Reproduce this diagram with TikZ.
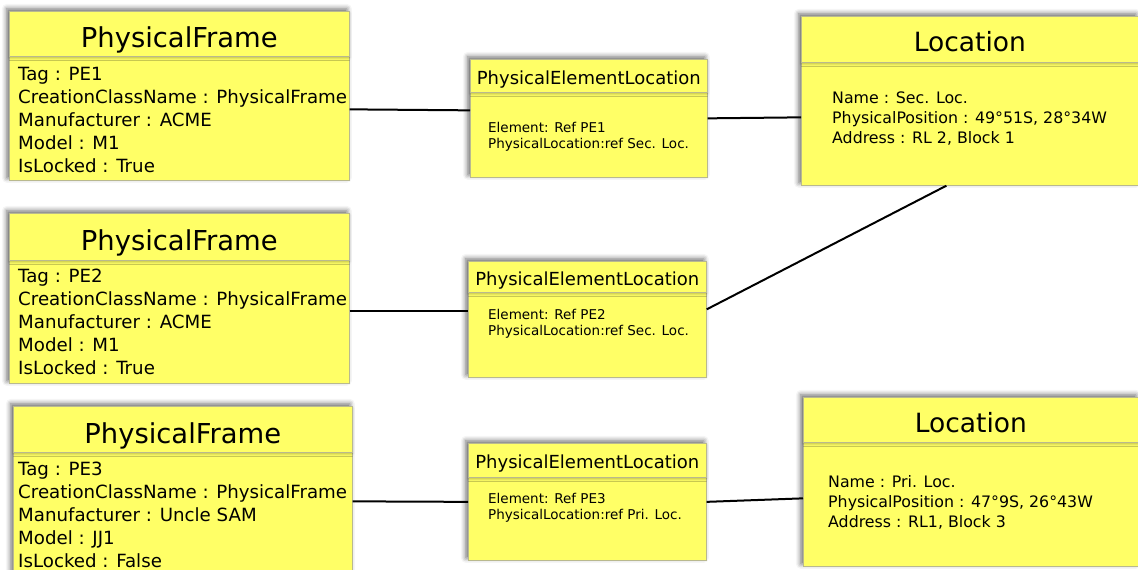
\documentclass[tikz,border=0pt]{standalone}
\usepackage{fontspec}
\setmainfont{DejaVu Sans}
\usepackage{xcolor}
\usetikzlibrary{positioning,shadows,shadows.blur}
\definecolor{notefill}{HTML}{FFFF66}
\definecolor{noteline}{HTML}{B9B98F}

\tikzset{
	note/.style={rectangle, anchor=north west, inner sep=0pt, fill=notefill, draw=noteline, line width=0.7pt,
		blur shadow={shadow xshift=-2.5pt, shadow yshift=2.5pt, shadow blur radius=5pt, shadow opacity=60}},
	notehead/.style={rectangle, anchor=north west, inner sep=0pt, fill=notefill, draw=noteline, line width=0.6pt,
		blur shadow={shadow xshift=0pt, shadow yshift=-1.5pt, shadow blur radius=2.5pt, shadow opacity=30}},
	bigtitle/.style={font=\fontsize{27.4}{32}\selectfont, text height=28pt, text depth=0pt},
	loctitle/.style={font=\fontsize{26.5}{31}\selectfont, text height=25.3pt, text depth=0pt},
	smalltitle/.style={font=\fontsize{18}{21}\selectfont, text height=17pt, text depth=0pt},
	frametext/.style={anchor=west, align=left, inner sep=0pt, font=\fontsize{18.2}{23}\selectfont},
	loctext/.style={anchor=west, align=left, inner sep=0pt, font=\fontsize{15.8}{20}\selectfont},
	peltext/.style={anchor=west, align=left, inner sep=0pt, font=\fontsize{13.5}{16}\selectfont},
	link/.style={line width=2pt, black}
}

\begin{document}
\begin{tikzpicture}[x=1pt, y=-1pt]
	\useasboundingbox (0,0) rectangle (1138,570);
	% physical frames
	\node[note, minimum width=340, minimum height=169] (PFa) at (9,11) {};
	\node[note, minimum width=340, minimum height=170] (PFb) at (9,213) {};
	\node[note, minimum width=339, minimum height=190] (PFc) at (13,406) {};
	\node[notehead, bigtitle, minimum width=340, minimum height=45] (PFaHead) at (9,11) {PhysicalFrame};
	\node[notehead, bigtitle, minimum width=340, minimum height=47] (PFbHead) at (9,213) {PhysicalFrame};
	\node[notehead, bigtitle, minimum width=339, minimum height=46] (PFcHead) at (13,406) {PhysicalFrame};
	\node[frametext] (PFaText) at (18,120) {Tag : PE1\\CreationClassName : PhysicalFrame\\Manufacturer : ACME\\Model : M1\\IsLocked : True};
	\node[frametext] (PFbText) at (18,322) {Tag : PE2\\CreationClassName : PhysicalFrame\\Manufacturer : ACME\\Model : M1\\IsLocked : True};
	\node[frametext] (PFcText) at (18,514.5) {Tag : PE3\\CreationClassName : PhysicalFrame\\Manufacturer : Uncle SAM\\Model : JJ1\\IsLocked : False};

	% element locations
	\node[note, minimum width=237, minimum height=118] (PELa) at (470,59) {};
	\node[note, minimum width=238, minimum height=116] (PELb) at (468,261) {};
	\node[note, minimum width=238, minimum height=117] (PELc) at (468,443) {};
	\node[notehead, smalltitle, minimum width=237, minimum height=33] (PELaHead) at (470,59) {PhysicalElementLocation};
	\node[notehead, smalltitle, minimum width=238, minimum height=31] (PELbHead) at (468,261) {PhysicalElementLocation};
	\node[notehead, smalltitle, minimum width=238, minimum height=34] (PELcHead) at (468,443) {PhysicalElementLocation};
	\node[peltext] (PELaText) at (488,137) {Element: Ref PE1\\PhysicalLocation:ref Sec. Loc.};
	\node[peltext] (PELbText) at (488,324) {Element: Ref PE2\\PhysicalLocation:ref Sec. Loc.};
	\node[peltext] (PELcText) at (488,508) {Element: Ref PE3\\PhysicalLocation:ref Pri. Loc.};

	% locations
	\node[note, minimum width=337, minimum height=169] (LOCa) at (801,16) {};
	\node[note, minimum width=335, minimum height=169] (LOCb) at (803,397) {};
	\node[notehead, loctitle, minimum width=337, minimum height=46] (LOCaHead) at (801,16) {Location};
	\node[notehead, loctitle, minimum width=335, minimum height=45] (LOCbHead) at (803,397) {Location};
	\node[loctext] (LOCaText) at (832,119) {Name : Sec. Loc.\\PhysicalPosition : 49°51S, 28°34W\\Address : RL 2, Block 1};
	\node[loctext] (LOCbText) at (828,502) {Name : Pri. Loc.\\PhysicalPosition : 47°9S, 26°43W\\Address : RL1, Block 3};

	% links
	\draw[link] ([yshift=-13.5pt]PFa.east) -- ([yshift=8pt]PELa.west);
	\draw[link] (PELa.east) -- ([yshift=-16.5pt]LOCa.west);
	\draw[link] ([yshift=-13pt]PFb.east) -- ([yshift=8pt]PELb.west);
	\draw[link] ([yshift=10pt]PELb.east) -- ([xshift=-23.5pt]LOCa.south);
	\draw[link] (PFc.east) -- (PELc.west);
	\draw[link] (PELc.east) -- ([yshift=-16.5pt]LOCb.west);
\end{tikzpicture}
\end{document}
